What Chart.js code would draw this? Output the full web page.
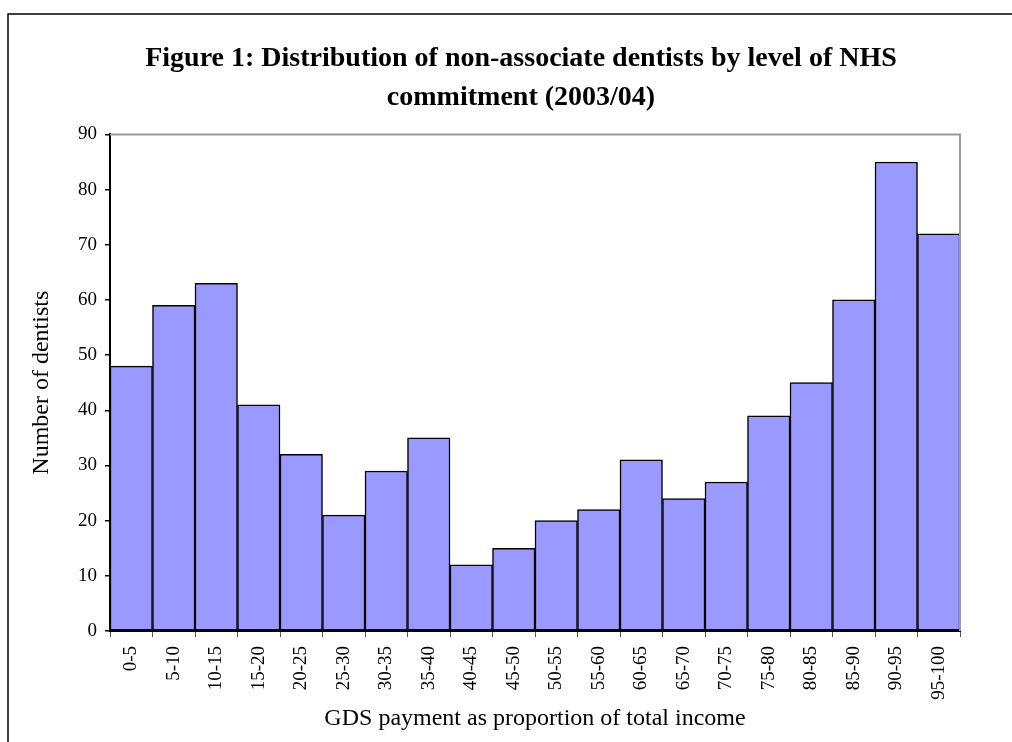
<!DOCTYPE html>
<html>
<head>
<meta charset="utf-8">
<script src="https://cdn.jsdelivr.net/npm/chart.js@4.4.1/dist/chart.umd.min.js"></script>
<style>
  html, body { margin: 0; padding: 0; background: #fff; }
  #wrap { width: 1012px; height: 742px; }
</style>
</head>
<body>
<div id="wrap"><canvas id="c" width="1012" height="742"></canvas></div>
<script>
// GDS payment bands (% of total income)
const bands = ['0-5','5-10','10-15','15-20','20-25','25-30','30-35','35-40','40-45','45-50',
               '50-55','55-60','60-65','65-70','70-75','75-80','80-85','85-90','90-95','95-100'];
// Number of non-associate dentists in each band
const dentists = [48, 59, 63, 41, 32, 21, 29, 35, 12, 15, 20, 22, 31, 24, 27, 39, 45, 60, 85, 72];
const titleLines = ['Figure 1: Distribution of non-associate dentists by level of NHS', 'commitment (2003/04)'];
const yTitle = 'Number of dentists';
const xTitle = 'GDS payment as proportion of total income';

const SERIF = '"Liberation Serif", "Times New Roman", serif';

// Page frame lines plus the grey top/right edges of the plot area
const framePlugin = {
  id: 'frames',
  beforeDraw(chart) {
    const ctx = chart.ctx;
    ctx.save();
    ctx.strokeStyle = '#000';
    ctx.lineWidth = 1.5;
    ctx.beginPath();
    ctx.moveTo(8, 742);
    ctx.lineTo(8, 14);
    ctx.lineTo(1012, 14);
    ctx.stroke();
    ctx.restore();
  },
  afterDraw(chart) {
    const a = chart.chartArea, ctx = chart.ctx;
    ctx.save();
    ctx.strokeStyle = '#999';
    ctx.lineWidth = 2;
    ctx.beginPath();
    ctx.moveTo(a.left, a.top);
    ctx.lineTo(a.right, a.top);
    ctx.lineTo(a.right, a.bottom);
    ctx.stroke();
    ctx.restore();
  }
};

new Chart(document.getElementById('c'), {
  type: 'bar',
  data: {
    labels: bands,
    datasets: [{
      data: dentists,
      backgroundColor: '#9999FF',
      borderColor: '#000',
      borderWidth: 1.5,
      borderSkipped: false,
      barPercentage: 1,
      categoryPercentage: 1
    }]
  },
  options: {
    responsive: false,
    animation: false,
    devicePixelRatio: 1,
    layout: { padding: { left: 30, right: 0, top: 0, bottom: 0 } },
    plugins: {
      legend: { display: false },
      tooltip: { enabled: false },
      title: {
        display: true,
        text: titleLines,
        color: '#000',
        font: { family: SERIF, size: 28, weight: 'bold', lineHeight: 1.4 },
        padding: { top: 39, bottom: 17 }
      }
    },
    scales: {
      x: {
        grid: { display: true, offset: true, drawOnChartArea: false, color: '#555', tickLength: 6, lineWidth: 1 },
        border: { display: true, color: '#000', width: 2 },
        ticks: { color: '#000', font: { family: SERIF, size: 19 }, minRotation: 90, maxRotation: 90, autoSkip: false, padding: 9 },
        title: { display: true, text: xTitle, color: '#000', font: { family: SERIF, size: 24 }, padding: { top: 0, bottom: 9 } },
        afterFit(s) { s.height = 111; }
      },
      y: {
        min: 0, max: 90,
        grid: { display: true, drawOnChartArea: false, color: '#000', tickLength: 5, lineWidth: 1.5 },
        border: { display: true, color: '#000', width: 2 },
        ticks: { stepSize: 10, color: '#000', font: { family: SERIF, size: 19 }, padding: 8 },
        title: { display: true, text: yTitle, color: '#000', font: { family: SERIF, size: 24, lineHeight: 1 }, padding: 0 },
        afterFit(s) { s.width = 80; }
      },
      spacer: {
        type: 'linear',
        position: 'right',
        display: true,
        grid: { display: false },
        border: { display: false },
        ticks: { display: false },
        afterFit(s) { s.width = 52; }
      }
    }
  },
  plugins: [framePlugin]
});
</script>
</body>
</html>
